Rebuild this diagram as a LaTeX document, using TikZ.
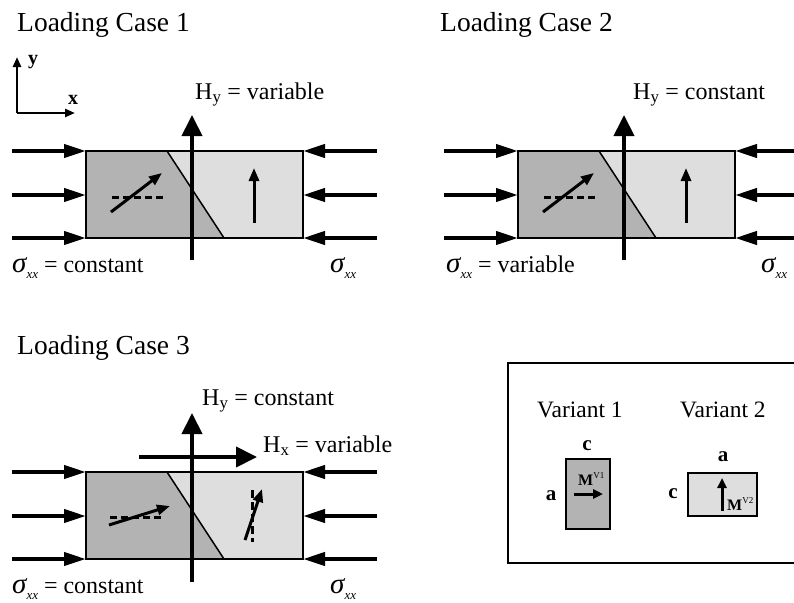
\documentclass[tikz,border=0pt]{standalone}
\usepackage{fontspec}
\setmainfont{Liberation Serif}
\usetikzlibrary{arrows.meta}
\definecolor{darkgr}{HTML}{B3B3B3}
\definecolor{lightgr}{HTML}{DEDEDE}
\tikzset{
  load/.style={line width=4pt, -{Triangle[length=22pt,width=13pt]}},
  field/.style={line width=4pt, -{Triangle[length=21pt,width=20pt]}},
  mag/.style={line width=3pt, -{Triangle[length=13pt,width=10pt]}},
  smallmag/.style={line width=3pt, -{Triangle[length=10pt,width=9pt]}},
  axisarrow/.style={line width=2.5pt, -{Triangle[length=10pt,width=8pt]}},
  refline/.style={line width=3pt, dash pattern=on 7pt off 4pt},
  lbl/.style={font=\fontsize{24}{26}\selectfont, inner sep=0pt, anchor=base west},
  ttl/.style={font=\fontsize{27.5}{30}\selectfont, inner sep=0pt, anchor=base west},
  bold/.style={font=\fontsize{21}{23}\selectfont\bfseries, inner sep=0pt},
}
\newcommand\sigxx{{\fontsize{29}{30}\selectfont\itshape σ}\raisebox{-6pt}{\fontsize{13}{14}\selectfont\itshape xx}}
\newcommand\specimenbody{%
  \fill[lightgr] (86,151) rectangle (303,238);
  \fill[darkgr] (86,151) -- (167,151) -- (224,238) -- (86,238) -- cycle;
  \draw[line width=1.5pt] (167,151) -- (224,238);
  \draw[line width=2pt] (86,151) rectangle (303,238);
  \foreach \yy in {151,195,238} {
    \coordinate (Ls) at (12,\yy); \coordinate (Le) at (86,\yy);
    \coordinate (Rs) at (377,\yy); \coordinate (Re) at (303,\yy);
    \draw[load] (Ls) -- (Le);
    \draw[load] (Rs) -- (Re);
  }
}
\begin{document}
\begin{tikzpicture}[x=1pt,y=-1pt]
\useasboundingbox (0,0) rectangle (794,602);
\clip (0,0) rectangle (794,602);

% titles
\node[ttl] (t1) at (17,32) {Loading Case 1};
\node[ttl] (t2) at (440,32) {Loading Case 2};
\node[ttl] (t3) at (17,354) {Loading Case 3};

% axes
\coordinate (O) at (17,113);
\coordinate (Ytip) at (17,57);
\coordinate (Xtip) at (75,113);
\draw[axisarrow] (O) -- (Ytip);
\draw[axisarrow] (O) -- (Xtip);
\node[font=\fontsize{20}{20}\selectfont\bfseries, inner sep=0pt] (ylab) at (33,62) {y};
\node[font=\fontsize{20}{20}\selectfont\bfseries, inner sep=0pt] (xlab) at (73,100) {x};

% ---------- Case 1 ----------
\specimenbody
\draw[refline] (112,197) -- (163,197);
\draw[mag] (111,212) -- (162,173);
\draw[mag] (254,223) -- (254,168);
\coordinate (h1s) at (192,260); \coordinate (h1e) at (192,115);
\draw[field] (h1s) -- (h1e);
\node[lbl] (h1) at (195,99) {H\textsubscript{y} = variable};
\node[lbl] (s1a) at (12,272) {\sigxx{} = constant};
\node[lbl] (s1b) at (330,272) {\sigxx};

% ---------- Case 2 ----------
\begin{scope}[shift={(432,0)}]
\specimenbody
\draw[refline] (112,197) -- (163,197);
\draw[mag] (111,212) -- (162,173);
\draw[mag] (254,223) -- (254,168);
\coordinate (h2s) at (192,260); \coordinate (h2e) at (192,115);
\draw[field] (h2s) -- (h2e);
\end{scope}
\node[lbl] (h2) at (633,99) {H\textsubscript{y} = constant};
\node[lbl] (s2a) at (446,272) {\sigxx{} = variable};
\node[lbl] (s2b) at (761,272) {\sigxx};

% ---------- Case 3 ----------
\begin{scope}[shift={(0,321)}]
\specimenbody
\end{scope}
\draw[refline] (110,517) -- (162,517);
\draw[mag] (109,525) -- (170,506);
\draw[line width=3pt, dash pattern=on 8pt off 4pt] (252,490) -- (252,542);
\draw[mag] (245,540) -- (262,489);
\coordinate (h3s) at (192,582); \coordinate (h3e) at (192,413);
\draw[field] (h3s) -- (h3e);
\coordinate (hxs) at (139,457); \coordinate (hxe) at (257,457);
\draw[field] (hxs) -- (hxe);
\node[lbl] (h3) at (202,405) {H\textsubscript{y} = constant};
\node[lbl] (hx) at (263,452) {H\textsubscript{x} = variable};
\node[lbl] (s3a) at (12,593) {\sigxx{} = constant};
\node[lbl] (s3b) at (330,593) {\sigxx};

% ---------- Variant box ----------
\draw[line width=2pt] (508,363) rectangle (810,563);
\node[font=\fontsize{23.5}{26}\selectfont, inner sep=0pt, anchor=base west] (v1) at (537,417) {Variant 1};
\node[font=\fontsize{23.5}{26}\selectfont, inner sep=0pt, anchor=base west] (v2) at (680,417) {Variant 2};

\draw[fill=darkgr, line width=1.5pt] (566,459) rectangle (610,529);
\node[bold] (c1) at (587,446) {c};
\node[bold] (a1) at (551,496) {a};
\node[inner sep=0pt, anchor=base west] (m1) at (578,485) {{\fontsize{16}{18}\selectfont\bfseries M}\raisebox{7pt}{\fontsize{9}{10}\selectfont V1}};
\coordinate (m1s) at (574,494); \coordinate (m1e) at (603,494);
\draw[smallmag] (m1s) -- (m1e);

\draw[fill=lightgr, line width=1.5pt] (688,473) rectangle (757,516);
\node[bold] (a2) at (723,457) {a};
\node[bold] (c2) at (673,494) {c};
\coordinate (m2s) at (722,511); \coordinate (m2e) at (722,478);
\draw[smallmag] (m2s) -- (m2e);
\node[inner sep=0pt, anchor=base west] (m2) at (727,510) {{\fontsize{16}{18}\selectfont\bfseries M}\raisebox{7pt}{\fontsize{9}{10}\selectfont V2}};
\end{tikzpicture}
\end{document}
